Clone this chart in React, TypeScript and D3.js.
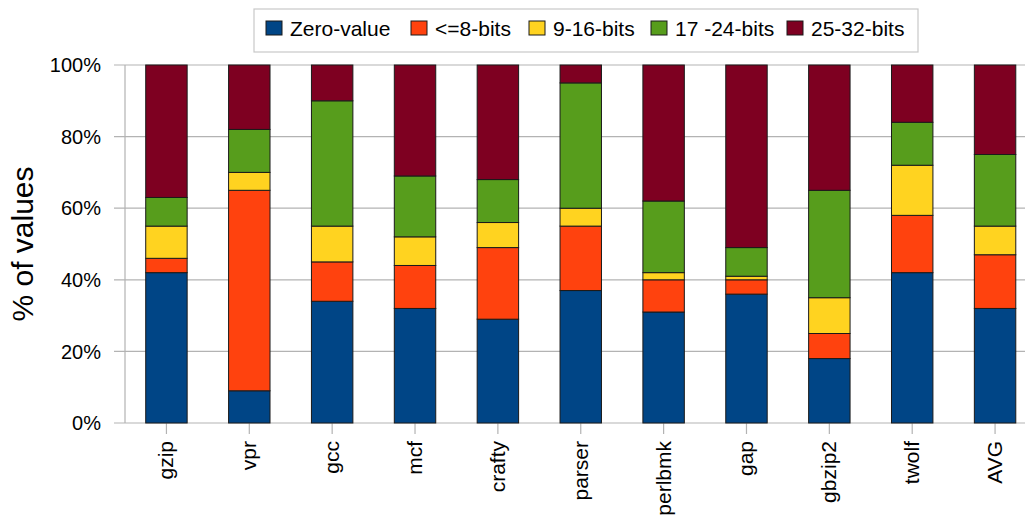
import React from "react";
import * as d3 from "d3";

// Benchmarks along the x axis
const categories = ["gzip", "vpr", "gcc", "mcf", "crafty", "parser", "perlbmk", "gap", "gbzip2", "twolf", "AVG"];

// Share of values (%) per width class, one entry per benchmark
const zeroValue = [42, 9, 34, 32, 29, 37, 31, 36, 18, 42, 32];
const upTo8Bits = [4, 56, 11, 12, 20, 18, 9, 4, 7, 16, 15];
const bits9to16 = [9, 5, 10, 8, 7, 5, 2, 1, 10, 14, 8];
const bits17to24 = [8, 12, 35, 17, 12, 35, 20, 8, 30, 12, 20];
const bits25to32 = [37, 18, 10, 31, 32, 5, 38, 51, 35, 16, 25];

const seriesNames = ["Zero-value", "<=8-bits", "9-16-bits", "17 -24-bits", "25-32-bits"];
const seriesValues = [zeroValue, upTo8Bits, bits9to16, bits17to24, bits25to32];
const seriesColors = ["#004586", "#ff420e", "#ffd320", "#579d1c", "#7e0021"];

const yTicks = [0, 20, 40, 60, 80, 100];

const W = 1025;
const H = 521;
const plot = { left: 125, right: 1036.5, top: 65, bottom: 423 };
const FONT = "'Liberation Sans', Arial, sans-serif";

type Row = { name: string; [k: string]: number | string };

export default function App() {
  const rows: Row[] = categories.map((c, i) => {
    const r: Row = { name: c };
    seriesNames.forEach((s, j) => (r[s] = seriesValues[j][i]));
    return r;
  });

  const stacked = d3.stack<Row>().keys(seriesNames).value((d, k) => d[k] as number)(rows);

  const x = d3
    .scaleBand<string>()
    .domain(categories)
    .range([plot.left, plot.right])
    .paddingInner(0.5)
    .paddingOuter(0.25);
  const y = d3.scaleLinear().domain([0, 100]).range([plot.bottom, plot.top]);

  // legend layout: swatch x and text x positions
  const legendItems = [
    { sx: 266, tx: 290 },
    { sx: 411, tx: 435 },
    { sx: 529, tx: 553 },
    { sx: 651, tx: 675 },
    { sx: 787, tx: 811 },
  ];

  return (
    <div style={{ position: "fixed", left: 0, top: 0 }}>
      <svg width={W} height={H} style={{ display: "block", background: "#fff" }} fontFamily={FONT}>
        {/* horizontal gridlines and y ticks */}
        {yTicks.map((t) => (
          <line key={"g" + t} x1={114} x2={W} y1={y(t)} y2={y(t)} stroke="#b3b3b3" strokeWidth={1.2} />
        ))}
        {/* y axis line */}
        <line x1={plot.left} x2={plot.left} y1={plot.top} y2={plot.bottom} stroke="#b3b3b3" strokeWidth={1.2} />
        {/* x ticks */}
        {categories.map((c) => {
          const cx = (x(c) as number) + x.bandwidth() / 2;
          return <line key={"xt" + c} x1={cx} x2={cx} y1={plot.bottom} y2={plot.bottom + 11} stroke="#b3b3b3" strokeWidth={1.2} />;
        })}

        {/* stacked bars */}
        {stacked.map((layer, li) =>
          layer.map((d, i) => (
            <rect
              key={li + "-" + i}
              x={x(categories[i]) as number}
              y={y(d[1])}
              width={x.bandwidth()}
              height={y(d[0]) - y(d[1])}
              fill={seriesColors[li]}
              stroke="#1a1a1a"
              strokeWidth={1}
            />
          ))
        )}

        {/* y tick labels */}
        {yTicks.map((t) => (
          <text key={"yl" + t} x={101} y={y(t)} dy="0.36em" textAnchor="end" fontSize={20} fill="#000">
            {t + "%"}
          </text>
        ))}

        {/* y axis title */}
        <text transform={`translate(33, ${(plot.top + plot.bottom) / 2}) rotate(-90)`} textAnchor="middle" fontSize={30} fill="#000">
          % of values
        </text>

        {/* x labels, rotated */}
        {categories.map((c) => {
          const cx = (x(c) as number) + x.bandwidth() / 2;
          return (
            <text
              key={"xl" + c}
              transform={`translate(${cx + 7}, 441) rotate(-90)`}
              textAnchor="end"
              fontSize={21}
              fill="#000"
            >
              {c}
            </text>
          );
        })}

        {/* legend */}
        <rect x={254} y={9} width={664} height={43} fill="#fff" stroke="#c8c8c8" strokeWidth={1.2} />
        {seriesNames.map((s, i) => (
          <g key={"lg" + s}>
            <rect x={legendItems[i].sx} y={21} width={16} height={14} fill={seriesColors[i]} stroke="#1a1a1a" strokeWidth={1} />
            <text x={legendItems[i].tx} y={36} fontSize={21} fill="#000">
              {s}
            </text>
          </g>
        ))}
      </svg>
    </div>
  );
}
